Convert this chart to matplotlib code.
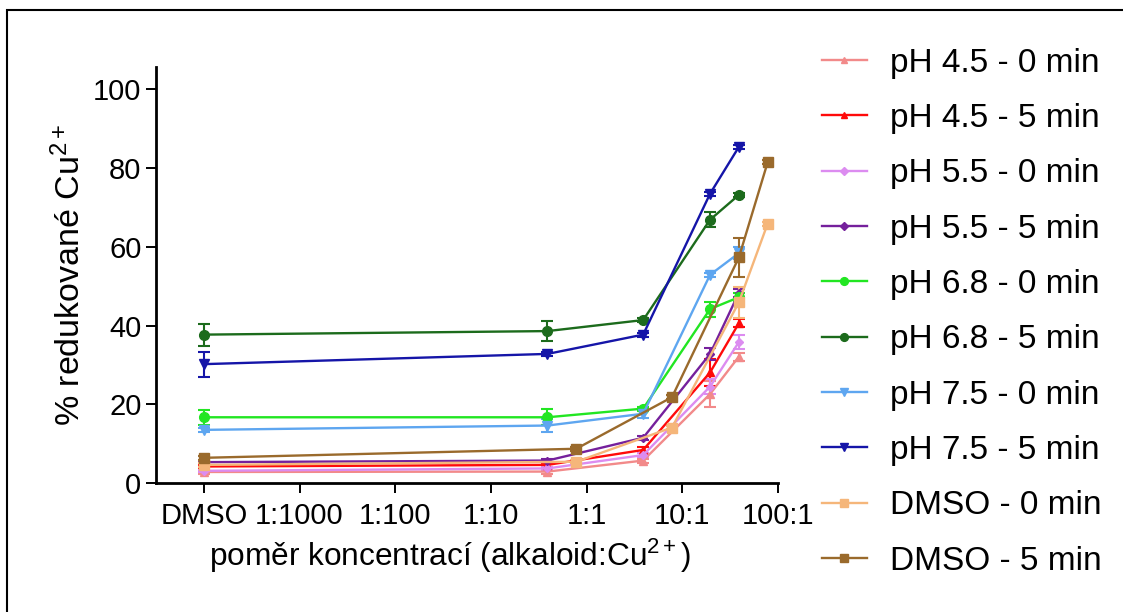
import numpy as np
import matplotlib
matplotlib.use("Agg")
import matplotlib.pyplot as plt
from matplotlib.patches import Rectangle
from matplotlib.lines import Line2D

plt.rcParams['font.family'] = ['Liberation Sans', 'DejaVu Sans']
plt.rcParams['mathtext.fontset'] = 'custom'
plt.rcParams['mathtext.rm'] = 'Liberation Sans'
plt.rcParams['mathtext.it'] = 'Liberation Sans'
plt.rcParams['mathtext.bf'] = 'Liberation Sans'

# ---- data ----
DMSO_POS = 1e-4
tick_pos = [1e-4, 1e-3, 1e-2, 1e-1, 1, 10, 100]
tick_labels = ['DMSO', '1:1000', '1:100', '1:10', '1:1', '10:1', '100:1']

x_ph = [DMSO_POS, 0.39, 3.9, 19.5, 39]
x_dmso = [DMSO_POS, 0.78, 7.8, 39, 78]

labels = ['pH 4.5 - 0 min', 'pH 4.5 - 5 min', 'pH 5.5 - 0 min', 'pH 5.5 - 5 min',
          'pH 6.8 - 0 min', 'pH 6.8 - 5 min', 'pH 7.5 - 0 min', 'pH 7.5 - 5 min',
          'DMSO - 0 min', 'DMSO - 5 min']

ph45_0 = [2.8, 2.9, 5.7, 22.6, 32.1]
ph45_5 = [4.2, 4.6, 8.4, 28.1, 40.6]
ph55_0 = [3.1, 3.7, 7.1, 24.5, 35.8]
ph55_5 = [5.3, 5.7, 11.5, 32.8, 48.3]
ph68_0 = [16.7, 16.7, 18.9, 44.2, 47.2]
ph68_5 = [37.7, 38.6, 41.4, 66.9, 73.2]
ph75_0 = [13.5, 14.6, 17.6, 52.9, 58.4]
ph75_5 = [30.2, 32.8, 37.7, 73.5, 85.4]
dmso_0 = [4.6, 5.4, 14.1, 45.9, 65.9]
dmso_5 = [6.4, 8.7, 21.8, 57.3, 81.5]

err45_0 = [0.5, 0.5, 0.5, 3.4, 1.0]
err45_5 = [0.5, 0.5, 0.8, 3.4, 1.0]
err55_0 = [0.3, 0.3, 0.5, 2.0, 1.7]
err55_5 = [0.3, 0.3, 0.5, 1.5, 1.0]
err68_0 = [1.9, 2.0, 0.5, 1.9, 1.0]
err68_5 = [2.8, 2.5, 0.5, 1.9, 0.5]
err75_0 = [0.5, 1.6, 1.2, 0.5, 1.6]
err75_5 = [3.2, 0.5, 0.5, 0.5, 0.5]
errd_0 = [0.5, 0.5, 0.5, 4.0, 0.5]
errd_5 = [0.5, 0.5, 0.5, 4.9, 0.5]

series = [ph45_0, ph45_5, ph55_0, ph55_5, ph68_0, ph68_5, ph75_0, ph75_5, dmso_0, dmso_5]
errors = [err45_0, err45_5, err55_0, err55_5, err68_0, err68_5, err75_0, err75_5, errd_0, errd_5]
xs = [x_ph] * 8 + [x_dmso] * 2

colors = ['#f28a8a', '#ff0a0a', '#dc8cf0', '#75209c', '#22e622', '#1c6b1c',
          '#5ea6f0', '#1515a8', '#f5b67a', '#9a6a2c']
markers = ['^', '^', 'D', 'D', 'o', 'o', 'v', 'v', 's', 's']
msizes = [6, 6, 4.5, 4.5, 7, 7, 6.5, 6.5, 6.5, 6.5]

fig = plt.figure(figsize=(11.23, 6.12), dpi=100)
ax = fig.add_axes([156 / 1123, 1 - 483 / 612, (778 - 156) / 1123, (483 - 67) / 612])

for x, y, e, c, m, ms, lab in zip(xs, series, errors, colors, markers, msizes, labels):
    ax.errorbar(x, y, yerr=e, color=c, marker=m, markersize=ms, lw=1.7,
                elinewidth=1.5, capsize=4.5, capthick=1.5, label=lab)

ax.set_xscale('log')
ax.set_xlim(10 ** -4.5, 100)
ax.set_ylim(0, 105.7)
ax.set_xticks(tick_pos)
ax.set_xticklabels(tick_labels)
ax.minorticks_off()
ax.set_yticks([0, 20, 40, 60, 80, 100])

for s in ['top', 'right']:
    ax.spines[s].set_visible(False)
for s in ['left', 'bottom']:
    ax.spines[s].set_linewidth(2.0)
ax.tick_params(axis='both', which='major', direction='out', length=7.5, width=1.4,
               labelsize=21)
ax.tick_params(axis='x', pad=6)
ax.tick_params(axis='y', pad=3)

ax.set_xlabel('poměr koncentrací (alkaloid:Cu$^{2+}$)', fontsize=22.8, labelpad=6)
ax.xaxis.set_label_coords(0.473, -0.13)
ax.set_ylabel('% redukované Cu$^{2+}$', fontsize=24.5, labelpad=4)

leg_handles = []
for c, m, ms in zip(colors, markers, msizes):
    leg_handles.append(Line2D([], [], color=c, marker=m, markersize=ms * 0.8, lw=1.7))
fig.legend(leg_handles, labels, loc='center left', bbox_to_anchor=(0.7317, 0.49),
           frameon=False, fontsize=24, handlelength=1.35, handletextpad=0.7,
           labelspacing=0.73, borderpad=0, borderaxespad=0)

fig.patches.append(Rectangle((7 / 1123, -0.1), 1.2, 0.1 + (1 - 10 / 612),
                             transform=fig.transFigure, fill=False,
                             edgecolor='black', lw=1.5))

fig.savefig('out.png', dpi=100)
